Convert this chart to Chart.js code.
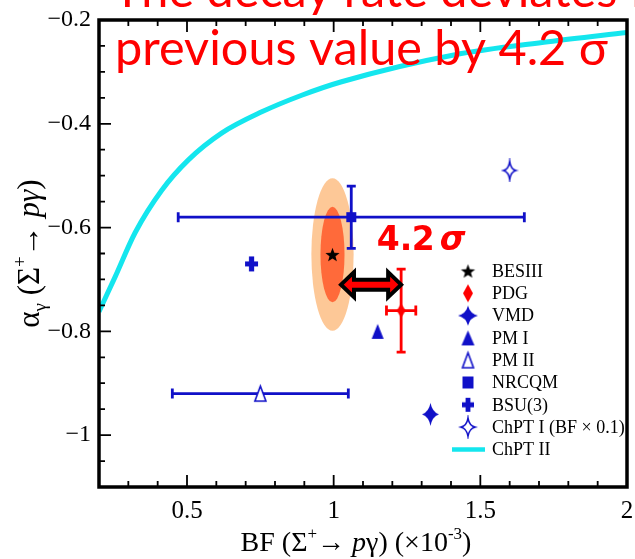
<!DOCTYPE html>
<html>
<head>
<meta charset="utf-8">
<script src="https://cdn.jsdelivr.net/npm/chart.js@4.4.1/dist/chart.umd.min.js"></script>
<style>
  html, body { margin: 0; padding: 0; background: #fff; }
  #wrap { width: 635px; height: 559px; position: relative; }
</style>
</head>
<body>
<div id="wrap"><canvas id="c" width="635" height="559"></canvas></div>
<script>
// Σ+ → pγ : branching fraction vs. decay asymmetry, measurement and model predictions
const modelNames  = ['BESIII', 'PDG', 'VMD', 'PM I', 'PM II', 'NRCQM', 'BSU(3)', 'ChPT I (BF × 0.1)'];
const bfValues    = [0.996, 1.23, 1.33, 1.15, 0.75, 1.06, 0.72, 1.60];
const alphaValues = [-0.652, -0.76, -0.96, -0.80, -0.92, -0.58, -0.67, -0.49];
const bfErrors    = [0, 0.05, 0, 0, 0.30, 0.59, 0, 0];
const alphaErrors = [0, 0.08, 0, 0, 0, 0.06, 0, 0];

// ChPT II prediction curve
const chptIIName  = 'ChPT II';
const chptIIBf    = [0.2, 0.255, 0.323, 0.414, 0.504, 0.618, 0.755, 0.891, 1.027, 1.414, 1.731, 2.0];
const chptIIAlpha = [-0.762, -0.695, -0.610, -0.528, -0.470, -0.418, -0.377, -0.345, -0.319, -0.267, -0.242, -0.224];

// BESIII contour half-widths (inner, outer)
const contourBfHalf    = [0.041, 0.072];
const contourAlphaHalf = [0.092, 0.147];

// deviation arrow between BESIII and PDG, and its label
const arrowBf      = [1.025, 1.23];
const arrowAlpha   = -0.71;
const deviationPos = [1.147, -0.643];
const noteLines    = ['The decay rate deviates from the', 'previous value by 4.2 σ'];

// axis ticks
const xTicks = [0.5, 1, 1.5, 2];
const yTicks = [-0.2, -0.4, -0.6, -0.8, -1];

const BLUE = '#1010c8';
const RED = '#ff0000';
const CYAN = '#14e6ee';
const SERIF = '"Liberation Serif", "Times New Roman", serif';

// marker drawings: [shape, width, height, colour]
const plotMarkers = [
  ['star5', 15, 15, '#000'], ['diamond', 9, 14, RED], ['star4', 17, 23, BLUE],
  ['tri', 12, 15, BLUE], ['triopen', 13, 17, BLUE], ['square', 10, 10, BLUE],
  ['plus', 13, 15, BLUE], ['star4open', 14, 20, BLUE]
];
const legendMarkers = [
  ['star5', 15, 15, '#000'], ['diamond', 10, 18, RED], ['star4', 20, 20, BLUE],
  ['tri', 13, 15, BLUE], ['triopen', 13, 17, BLUE], ['square', 11, 12, BLUE],
  ['plus', 12, 14, BLUE], ['star4open', 16, 20, BLUE]
];

function markerCanvas(kind, w, h, color) {
  const pad = 2;
  const cv = document.createElement('canvas');
  cv.width = w + pad * 2; cv.height = h + pad * 2;
  const g = cv.getContext('2d');
  const cx = cv.width / 2, cy = cv.height / 2;
  let rx = w / 2, ry = h / 2;
  g.fillStyle = color; g.strokeStyle = color;
  g.beginPath();
  if (kind === 'star5') {
    for (let i = 0; i < 10; i++) {
      const r = i % 2 ? 0.42 : 1;
      const a = -Math.PI / 2 + i * Math.PI / 5;
      g.lineTo(cx + rx * r * Math.cos(a), cy + 0.1 * ry + ry * r * Math.sin(a));
    }
    g.closePath(); g.fill();
  } else if (kind === 'diamond') {
    g.moveTo(cx, cy - ry); g.lineTo(cx + rx, cy); g.lineTo(cx, cy + ry); g.lineTo(cx - rx, cy);
    g.closePath(); g.fill();
  } else if (kind === 'star4' || kind === 'star4open') {
    if (kind === 'star4open') { rx -= 0.8; ry -= 0.8; }
    // four points joined by concave curves
    const pts = [[0, -ry], [rx, 0], [0, ry], [-rx, 0]];
    const k = kind === 'star4' ? 0.2 : 0.16;
    g.moveTo(cx + pts[0][0], cy + pts[0][1]);
    for (let i = 0; i < 4; i++) {
      const p = pts[(i + 1) % 4];
      const qx = (pts[i][0] + p[0]) * k, qy = (pts[i][1] + p[1]) * k;
      g.quadraticCurveTo(cx + qx, cy + qy, cx + p[0], cy + p[1]);
    }
    g.closePath();
    if (kind === 'star4') { g.fill(); }
    else { g.fillStyle = '#fff'; g.fill(); g.lineWidth = 1.5; g.stroke(); }
  } else if (kind === 'tri' || kind === 'triopen') {
    if (kind === 'triopen') { rx -= 1; ry -= 1; }
    g.moveTo(cx, cy - ry); g.lineTo(cx + rx, cy + ry); g.lineTo(cx - rx, cy + ry); g.closePath();
    if (kind === 'tri') { g.fill(); }
    else { g.fillStyle = '#fff'; g.fill(); g.lineWidth = 1.6; g.stroke(); }
  } else if (kind === 'square') {
    g.rect(cx - rx, cy - ry, w, h); g.fill();
  } else if (kind === 'plus') {
    const t = w * 0.4;
    g.rect(cx - t / 2, cy - ry, t, h); g.rect(cx - rx, cy - t / 2, w, t); g.fill();
  }
  return cv;
}

const plotImages = plotMarkers.map(m => markerCanvas(...m));
const legendImages = legendMarkers.map(m => markerCanvas(...m));

function fmtTick(v) {
  const s = String(Math.round(v * 100) / 100);
  return s.replace('-', '\u2212');
}

// text with super/subscripts; x is the centre, y the baseline
function drawRich(ctx, parts, x, y, size) {
  const fontFor = p => `${p.it ? 'italic ' : ''}${p.s ? Math.round(size * 0.62) : size}px ${SERIF}`;
  let total = 0;
  parts.forEach(p => { ctx.font = fontFor(p); p.w = ctx.measureText(p.t).width; total += p.w; });
  let cx = x - total / 2;
  ctx.textAlign = 'left'; ctx.textBaseline = 'alphabetic';
  parts.forEach(p => {
    ctx.font = fontFor(p);
    const dy = p.s === 'sup' ? -size * 0.42 : p.s === 'sub' ? size * 0.22 : 0;
    ctx.fillText(p.t, cx, y + dy);
    cx += p.w;
  });
}

const figurePlugin = {
  id: 'figure',
  beforeDatasetsDraw(chart) {
    const { ctx, chartArea: a } = chart;
    const xs = chart.scales.x, ys = chart.scales.y;
    ctx.save();
    ctx.beginPath(); ctx.rect(a.left, a.top, a.right - a.left, a.bottom - a.top); ctx.clip();
    // BESIII contours
    const cx = xs.getPixelForValue(bfValues[0]), cy = ys.getPixelForValue(alphaValues[0]);
    const fills = ['#ff6a3a', '#fdc897'];
    for (let i = contourBfHalf.length - 1; i >= 0; i--) {
      const rx = xs.getPixelForValue(bfValues[0] + contourBfHalf[i]) - cx;
      const ry = cy - ys.getPixelForValue(alphaValues[0] + contourAlphaHalf[i]);
      ctx.beginPath(); ctx.ellipse(cx, cy, rx, ry, 0, 0, Math.PI * 2);
      ctx.fillStyle = fills[i]; ctx.fill();
    }
    // error bars
    ctx.lineWidth = 2.8; ctx.lineCap = 'butt';
    modelNames.forEach((name, i) => {
      const px = xs.getPixelForValue(bfValues[i]), py = ys.getPixelForValue(alphaValues[i]);
      ctx.strokeStyle = i === 1 ? RED : BLUE;
      if (bfErrors[i] > 0) {
        const l = xs.getPixelForValue(bfValues[i] - bfErrors[i]);
        const r = xs.getPixelForValue(bfValues[i] + bfErrors[i]);
        ctx.beginPath();
        ctx.moveTo(l, py); ctx.lineTo(r, py);
        ctx.moveTo(l, py - 5); ctx.lineTo(l, py + 5);
        ctx.moveTo(r, py - 5); ctx.lineTo(r, py + 5);
        ctx.stroke();
      }
      if (alphaErrors[i] > 0) {
        const t = ys.getPixelForValue(alphaValues[i] + alphaErrors[i]);
        const b = ys.getPixelForValue(alphaValues[i] - alphaErrors[i]);
        ctx.beginPath();
        ctx.moveTo(px, t); ctx.lineTo(px, b);
        ctx.moveTo(px - 4.5, t); ctx.lineTo(px + 4.5, t);
        ctx.moveTo(px - 4.5, b); ctx.lineTo(px + 4.5, b);
        ctx.stroke();
      }
    });
    ctx.restore();
  },
  afterDatasetsDraw(chart) {
    const { ctx, chartArea: a } = chart;
    const xs = chart.scales.x, ys = chart.scales.y;
    ctx.save();

    // double arrow between BESIII and PDG
    const x0 = xs.getPixelForValue(arrowBf[0]), x1 = xs.getPixelForValue(arrowBf[1]);
    const ya = ys.getPixelForValue(arrowAlpha);
    const hl = 13, hh = 12.5, sh = 5;
    ctx.beginPath();
    ctx.moveTo(x0, ya);
    ctx.lineTo(x0 + hl, ya - hh); ctx.lineTo(x0 + hl, ya - sh);
    ctx.lineTo(x1 - hl, ya - sh); ctx.lineTo(x1 - hl, ya - hh);
    ctx.lineTo(x1, ya);
    ctx.lineTo(x1 - hl, ya + hh); ctx.lineTo(x1 - hl, ya + sh);
    ctx.lineTo(x0 + hl, ya + sh); ctx.lineTo(x0 + hl, ya + hh);
    ctx.closePath();
    ctx.fillStyle = RED; ctx.fill();
    ctx.lineWidth = 4; ctx.lineJoin = 'miter'; ctx.strokeStyle = '#000'; ctx.stroke();

    // deviation label
    const lx = xs.getPixelForValue(deviationPos[0]), ly = ys.getPixelForValue(deviationPos[1]);
    ctx.fillStyle = RED; ctx.textAlign = 'left'; ctx.textBaseline = 'alphabetic';
    ctx.font = 'bold 33px "DejaVu Sans"';
    ctx.fillText('4.', lx, ly);
    ctx.fillText('2', lx + 35, ly);
    ctx.font = 'italic bold 33px "DejaVu Sans"';
    ctx.fillText('σ', lx + 63, ly);

    // frame
    ctx.strokeStyle = '#000'; ctx.lineWidth = 3.5; ctx.lineJoin = 'miter';
    ctx.strokeRect(a.left, a.top, a.right - a.left, a.bottom - a.top);

    // inward tick marks: left, top, bottom
    ctx.lineWidth = 1.8;
    ctx.beginPath();
    for (let k = 3; k <= 19; k++) {
      const v = k / 10, px = xs.getPixelForValue(v);
      const len = k % 5 === 0 ? 12 : 6;
      ctx.moveTo(px, a.bottom); ctx.lineTo(px, a.bottom - len);
      ctx.moveTo(px, a.top); ctx.lineTo(px, a.top + len);
    }
    for (let k = 5; k <= 21; k++) {
      const v = -k / 20, py = ys.getPixelForValue(v);
      const len = k % 4 === 0 ? 12 : 6;
      ctx.moveTo(a.left, py); ctx.lineTo(a.left + len, py);
    }
    ctx.stroke();

    // legend
    const mx = a.right - 159, tx = a.right - 135;
    const rows = [...modelNames, chptIIName];
    ctx.font = `18px ${SERIF}`; ctx.fillStyle = '#000';
    ctx.textAlign = 'left'; ctx.textBaseline = 'middle';
    rows.forEach((name, i) => {
      const ry = a.top + 251 + i * 22.3;
      if (i < legendImages.length) {
        const im = legendImages[i];
        ctx.drawImage(im, mx - im.width / 2, ry - im.height / 2);
      } else {
        ctx.strokeStyle = CYAN; ctx.lineWidth = 4.5;
        ctx.beginPath(); ctx.moveTo(mx - 16, ry); ctx.lineTo(mx + 17, ry); ctx.stroke();
      }
      ctx.fillStyle = '#000';
      ctx.fillText(name, tx, ry + 1);
    });

    // axis titles
    ctx.fillStyle = '#000';
    drawRich(ctx, [{ t: 'BF (Σ' }, { t: '+', s: 'sup' }, { t: '→ ' }, { t: 'p', it: true },
                   { t: 'γ) (×10' }, { t: '-3', s: 'sup' }, { t: ')' }], (a.left + a.right) / 2 - 7, 551, 28);
    ctx.save();
    ctx.translate(39, (a.top + a.bottom) / 2);
    ctx.rotate(-Math.PI / 2);
    drawRich(ctx, [{ t: 'α' }, { t: 'γ', s: 'sub' }, { t: ' (Σ' }, { t: '+', s: 'sup' },
                   { t: '→ ' }, { t: 'pγ', it: true }, { t: ')' }], 0, 0, 31);
    ctx.restore();

    // note
    ctx.fillStyle = RED; ctx.textAlign = 'left'; ctx.textBaseline = 'alphabetic';
    let fs = 44;
    ctx.font = `${fs}px Lato`;
    fs = fs * 493 / ctx.measureText(noteLines[1]).width;
    ctx.font = `${fs}px Lato`;
    ctx.fillText(noteLines[0], 113, 7);
    ctx.fillText(noteLines[1], 115, 65);

    ctx.restore();
  }
};

const datasets = modelNames.map((name, i) => ({
  label: name,
  data: [{ x: bfValues[i], y: alphaValues[i] }],
  pointStyle: plotImages[i],
  pointRadius: 7,
  showLine: false
}));
datasets.push({
  label: chptIIName,
  data: chptIIBf.map((b, i) => ({ x: b, y: chptIIAlpha[i] })),
  showLine: true,
  borderColor: CYAN,
  borderWidth: 5,
  pointRadius: 0,
  cubicInterpolationMode: 'monotone',
  fill: false
});

new Chart(document.getElementById('c'), {
  type: 'scatter',
  data: { datasets },
  options: {
    responsive: false,
    animation: false,
    devicePixelRatio: 1,
    events: [],
    layout: { padding: { top: 20, right: 8, left: 0, bottom: 0 } },
    plugins: { legend: { display: false }, tooltip: { enabled: false } },
    scales: {
      x: {
        type: 'linear', min: 0.2, max: 2,
        grid: { display: false, drawTicks: false },
        border: { display: false },
        ticks: { color: '#000', font: { family: SERIF, size: 25 }, padding: 9, autoSkip: false, maxRotation: 0, callback: v => fmtTick(v) },
        afterBuildTicks: s => { s.ticks = xTicks.map(v => ({ value: v })); },
        afterFit: s => { s.height = 72; s.paddingLeft = 0; s.paddingRight = 0; }
      },
      y: {
        type: 'linear', min: -1.1, max: -0.2,
        grid: { display: false, drawTicks: false },
        border: { display: false },
        ticks: { color: '#000', font: { family: SERIF, size: 24 }, padding: 8, autoSkip: false, callback: v => fmtTick(v) },
        afterBuildTicks: s => { s.ticks = yTicks.map(v => ({ value: v })); },
        afterFit: s => { s.width = 99; s.paddingTop = 0; s.paddingBottom = 0; }
      }
    }
  },
  plugins: [figurePlugin]
});
</script>
</body>
</html>
